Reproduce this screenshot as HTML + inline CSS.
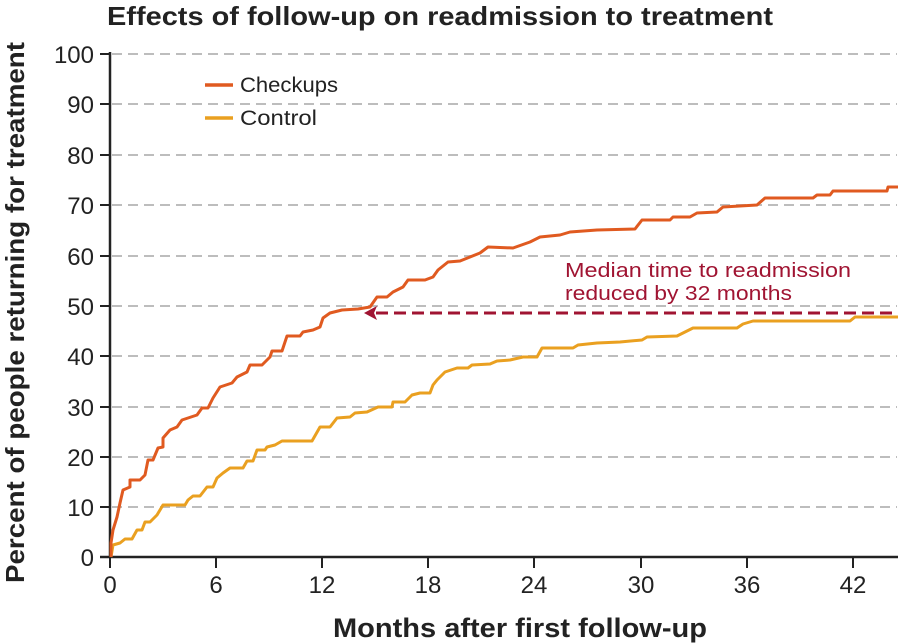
<!DOCTYPE html>
<html><head><meta charset="utf-8"><style>
html,body{margin:0;padding:0;background:#fff;}
svg{display:block;font-family:"Liberation Sans",sans-serif;}
</style></head><body>
<svg width="900" height="644" viewBox="0 0 900 644" xmlns="http://www.w3.org/2000/svg">
<text x="107" y="25" font-size="26" font-weight="bold" fill="#222" textLength="666" lengthAdjust="spacingAndGlyphs">Effects of follow-up on readmission to treatment</text>
<g stroke="#bdbdbd" stroke-width="2" stroke-dasharray="10,6">
<line x1="112" x2="897" y1="507" y2="507"/><line x1="112" x2="897" y1="457" y2="457"/>
<line x1="112" x2="897" y1="407" y2="407"/><line x1="112" x2="897" y1="356" y2="356"/>
<line x1="112" x2="897" y1="306" y2="306"/><line x1="112" x2="897" y1="256" y2="256"/>
<line x1="112" x2="897" y1="205" y2="205"/><line x1="112" x2="897" y1="155" y2="155"/>
<line x1="112" x2="897" y1="104" y2="104"/><line x1="112" x2="897" y1="54" y2="54"/>
</g>
<g stroke="#222" stroke-width="2.5" fill="none">
<line x1="110" y1="52" x2="110" y2="558"/>
<line x1="100" y1="557" x2="898" y2="557"/>
</g>
<g stroke="#222" stroke-width="2">
<line x1="100" x2="110" y1="507" y2="507"/><line x1="100" x2="110" y1="457" y2="457"/>
<line x1="100" x2="110" y1="407" y2="407"/><line x1="100" x2="110" y1="356" y2="356"/>
<line x1="100" x2="110" y1="306" y2="306"/><line x1="100" x2="110" y1="256" y2="256"/>
<line x1="100" x2="110" y1="205" y2="205"/><line x1="100" x2="110" y1="155" y2="155"/>
<line x1="100" x2="110" y1="104" y2="104"/><line x1="100" x2="110" y1="54" y2="54"/>
<line x1="110" x2="110" y1="557" y2="568"/><line x1="216" x2="216" y1="557" y2="568"/>
<line x1="322" x2="322" y1="557" y2="568"/><line x1="428" x2="428" y1="557" y2="568"/>
<line x1="534" x2="534" y1="557" y2="568"/><line x1="641" x2="641" y1="557" y2="568"/>
<line x1="747" x2="747" y1="557" y2="568"/><line x1="853" x2="853" y1="557" y2="568"/>
</g>
<g font-size="24" fill="#222" text-anchor="end">
<text x="94" y="566">0</text><text x="94" y="516">10</text><text x="94" y="466">20</text>
<text x="94" y="416">30</text><text x="94" y="365">40</text><text x="94" y="315">50</text>
<text x="94" y="265">60</text><text x="94" y="214">70</text><text x="94" y="164">80</text>
<text x="94" y="113">90</text><text x="94" y="63">100</text>
</g>
<g font-size="24" fill="#222" text-anchor="middle">
<text x="110" y="593">0</text><text x="216" y="593">6</text><text x="322" y="593">12</text>
<text x="428" y="593">18</text><text x="534" y="593">24</text><text x="641" y="593">30</text>
<text x="747" y="593">36</text><text x="853" y="593">42</text>
</g>
<text x="333" y="637" font-size="27" font-weight="bold" fill="#222" textLength="374" lengthAdjust="spacingAndGlyphs">Months after first follow-up</text>
<text transform="translate(24,583) rotate(-90)" font-size="26" font-weight="bold" fill="#222" textLength="541" lengthAdjust="spacingAndGlyphs">Percent of people returning for treatment</text>
<line x1="205" x2="233" y1="85" y2="85" stroke="#e05a20" stroke-width="3.5"/>
<text x="240" y="92" font-size="21" fill="#222" textLength="98" lengthAdjust="spacingAndGlyphs">Checkups</text>
<line x1="205" x2="233" y1="118" y2="118" stroke="#eaa020" stroke-width="3.5"/>
<text x="240" y="125" font-size="21" fill="#222" textLength="77" lengthAdjust="spacingAndGlyphs">Control</text>
<polyline fill="none" stroke="#eaa020" stroke-width="3" stroke-linejoin="round" points="111,557 113,545 120,543 125,539 132,539 137,530 142,530 145,522 150,522 157,515 163,505 185,505 188,500 193,496 200,496 207,487 213,487 217,478 223,473 230,468 243,468 247,461 253,461 257,450 265,450 267,447 275,445 282,441 312,441 320,427 330,427 337,418 350,417 355,413 367,412 378,407 392,407 393,402 405,402 412,395 420,393 430,393 433,385 437,380 440,377 445,372 457,368 468,368 472,365 490,364 497,361 510,360 523,357 537,357 542,348 573,348 578,345 597,343 620,342 642,340 647,337 677,336 683,333 693,328 737,328 743,324 753,321 850,321 855,317 898,317"/>
<polyline fill="none" stroke="#e05a20" stroke-width="3" stroke-linejoin="round" points="111,557 111,543 113,530 117,517 120,503 123,490 130,487 130,480 140,480 145,475 148,460 153,460 158,448 163,447 163,438 170,430 177,427 182,420 188,418 197,415 202,408 208,408 213,398 220,387 232,383 237,377 247,372 250,365 262,365 270,357 272,351 282,351 287,336 300,336 303,332 313,330 320,327 323,318 330,313 342,310 358,309 370,307 377,297 387,297 393,292 403,287 408,280 425,280 433,277 438,270 448,262 460,261 470,257 480,253 488,247 513,248 530,242 540,237 560,235 570,232 597,230 635,229 642,220 670,220 673,217 690,217 697,213 717,212 723,207 757,205 765,198 813,198 817,195 830,195 833,191 887,191 888,187 898,187"/>
<line x1="376" x2="895" y1="313" y2="313" stroke="#a01432" stroke-width="3" stroke-dasharray="12,6"/>
<polygon points="364,313 377,306 374,313 377,320" fill="#a01432"/>
<text x="565" y="277" font-size="20" fill="#a01432" textLength="286" lengthAdjust="spacingAndGlyphs">Median time to readmission</text>
<text x="565" y="300" font-size="20" fill="#a01432" textLength="227" lengthAdjust="spacingAndGlyphs">reduced by 32 months</text>
</svg>
</body></html>
